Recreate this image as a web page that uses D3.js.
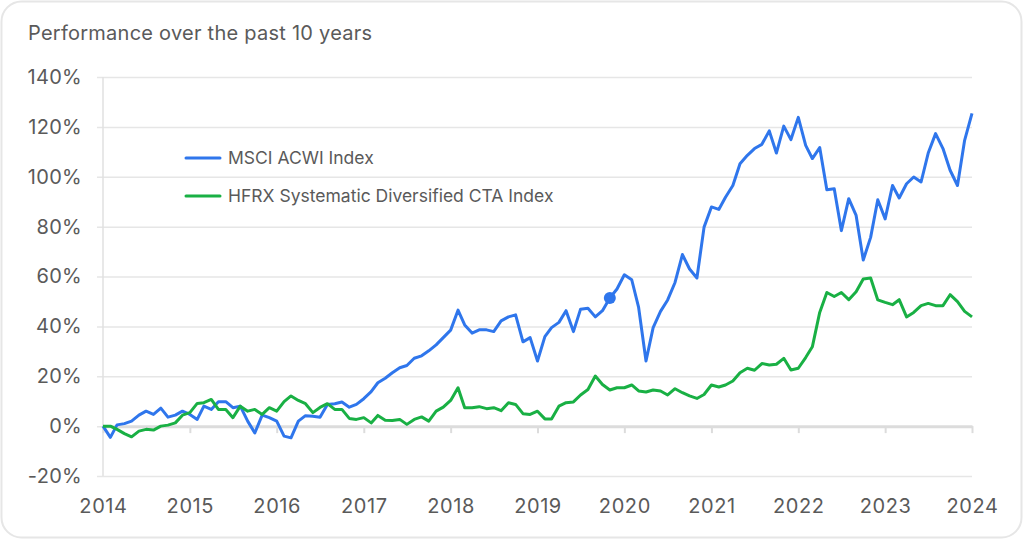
<!DOCTYPE html>
<html><head><meta charset="utf-8">
<script src="https://cdn.jsdelivr.net/npm/d3@7"></script>
<style>
html,body{margin:0;padding:0;background:#fff;}
svg{display:block;font-family:Inter,"Noto Sans",sans-serif;}
</style></head>
<body><svg id="chart" width="1024" height="540"></svg>
<script>
const title = "Performance over the past 10 years";
const seriesNames = ["MSCI ACWI Index", "HFRX Systematic Diversified CTA Index"];
const seriesColors = ["#2f76ec", "#19b044"];
const yTicks = [-20, 0, 20, 40, 60, 80, 100, 120, 140];
const xTickYears = [2014,2015,2016,2017,2018,2019,2020,2021,2022,2023,2024];
const highlightIndex = 70;

// Monthly cumulative performance (%), Jan 2014 .. Jan 2024
const msci = [
  0,-4.5,0.5,1,2,4.4,6,4.7,7.2,3.6,4.4,6,
  4.7,2.7,8,6.7,9.8,9.8,7.4,8,2,-2.7,4.4,3.4,
  2,-4,-4.7,2,4.2,4,3.6,8.7,9,9.7,7.6,8.7,
  11,13.8,17.4,19.2,21.4,23.4,24.3,27.2,28.2,30.2,32.6,35.5,
  38.5,46.5,40.6,37.3,38.6,38.6,37.9,42.2,43.8,44.6,33.8,35.5,
  26.1,35.9,39.5,41.6,46.3,37.9,46.9,47.3,43.8,46.3,51.4,55,
  60.7,58.7,47.6,26.1,39.5,46,50.6,57.6,68.8,63,59.4,79.8,
  87.9,86.9,91.8,96.5,105.2,108.6,111.3,113,118.4,109.5,120.3,114.9,
  123.8,112.6,107.3,111.7,94.8,95.2,78.4,91.2,84.5,66.6,75.7,90.8,
  83.1,96.5,91.5,97.2,99.9,97.9,109.5,117.3,111.3,102.6,96.5,114.6,
  125.4
];
const hfrx = [
  0,0,-1.3,-3,-4.3,-2,-1.3,-1.6,0,0.4,1.3,4.4,
  5.4,9.1,9.4,10.7,6.7,6.7,3.4,8,6,6.7,4.7,7.4,
  6,9.8,12.1,10.3,9,5.4,7.5,9,6.7,6.7,3.1,2.7,
  3.4,1.3,4.3,2.4,2.3,2.7,0.7,2.7,3.7,2,6,7.6,
  10.3,15.4,7.4,7.4,7.8,7,7.4,6.2,9.4,8.7,5,4.7,
  6,2.9,2.9,8,9.4,9.7,12.5,14.7,20.1,16.7,14.5,15.4,
  15.4,16.5,14.1,13.7,14.5,14.1,12.5,15,13.4,12.1,11.1,12.7,
  16.5,15.7,16.5,18.1,21.4,23.2,22.4,25.1,24.5,24.8,27.2,22.5,
  23.2,27.5,31.8,45.6,53.6,52,53.6,50.7,53.9,59,59.4,50.6,
  49.6,48.7,50.7,43.8,45.6,48.3,49.2,48.3,48.3,52.7,49.9,46,
  43.8
];

const months = d3.timeMonth.range(new Date(2014,0,1), new Date(2024,1,1));
const svg = d3.select("#chart");
const textColor = "#5a5a5a";

// card
svg.append("rect").attr("x",1.5).attr("y",1.5).attr("width",1020).attr("height",536)
  .attr("rx",20).attr("fill","#fff").attr("stroke","#e6e6e6").attr("stroke-width",2);

svg.append("text").attr("x",28).attr("y",40).text(title)
  .attr("font-size",20).attr("letter-spacing","0.25px").attr("fill",textColor);

const x = d3.scaleTime().domain([new Date(2014,0,1), new Date(2024,0,1)]).range([103, 972]);
const y = d3.scaleLinear().domain([-20, 140]).range([476, 77]);

// gridlines + y labels
const yAxis = d3.axisLeft(y).tickValues(yTicks).tickSize(-(972-97)).tickFormat(d => d + "%").tickPadding(15);
const gy = svg.append("g").attr("transform","translate(97,0)").call(yAxis);
gy.select(".domain").remove();
gy.selectAll(".tick line").attr("stroke","#e6e6e6").attr("stroke-width",1.5);
gy.selectAll(".tick text").attr("font-size",20).attr("letter-spacing","0.3px")
  .attr("fill",textColor).attr("font-family","Inter, sans-serif");

// y axis vertical line
svg.append("line").attr("x1",103).attr("x2",103).attr("y1",y(140)).attr("y2",y(-20))
  .attr("stroke","#e0e0e0").attr("stroke-width",1.5);

// x axis at zero
const tickDates = xTickYears.map(yr => new Date(yr,0,1));
const xAxis = d3.axisBottom(x).tickValues(tickDates).tickSize(7).tickSizeOuter(0).tickFormat("");
const gx = svg.append("g").attr("transform",`translate(0,${y(0)})`).call(xAxis);
gx.select(".domain").attr("stroke","#dcdcdc").attr("stroke-width",3);
gx.selectAll(".tick line").attr("stroke","#dcdcdc").attr("stroke-width",2);
gx.selectAll(".tick text").remove();
const gxl = svg.append("g").attr("transform",`translate(0,${y(-20)})`)
  .call(d3.axisBottom(x).tickValues(tickDates).tickFormat(d3.timeFormat("%Y")).tickSize(0).tickPadding(23));
gxl.select(".domain").remove();
gxl.selectAll(".tick text").attr("font-size",20).attr("letter-spacing","0.6px")
  .attr("fill",textColor).attr("font-family","Inter, sans-serif");

// lines
const line = d3.line().x((d,i) => x(months[i])).y(d => y(d)).curve(d3.curveLinear);
[msci, hfrx].forEach((s, k) => {
  svg.append("path").datum(s).attr("d", line).attr("fill","none")
    .attr("stroke", seriesColors[k]).attr("stroke-width",3).attr("stroke-linejoin","round");
});
svg.append("circle").attr("cx", x(months[highlightIndex])).attr("cy", y(msci[highlightIndex]))
  .attr("r",6).attr("fill",seriesColors[0]);

// legend
const leg = svg.append("g");
seriesNames.forEach((n, k) => {
  const ly = 158 + k*38;
  leg.append("line").attr("x1",186).attr("x2",220).attr("y1",ly).attr("y2",ly)
    .attr("stroke",seriesColors[k]).attr("stroke-width",3).attr("stroke-linecap","round");
  leg.append("text").attr("x",228).attr("y",ly).attr("dy","0.35em").text(n)
    .attr("font-size",17.5).attr("fill",textColor);
});
</script></body></html>
